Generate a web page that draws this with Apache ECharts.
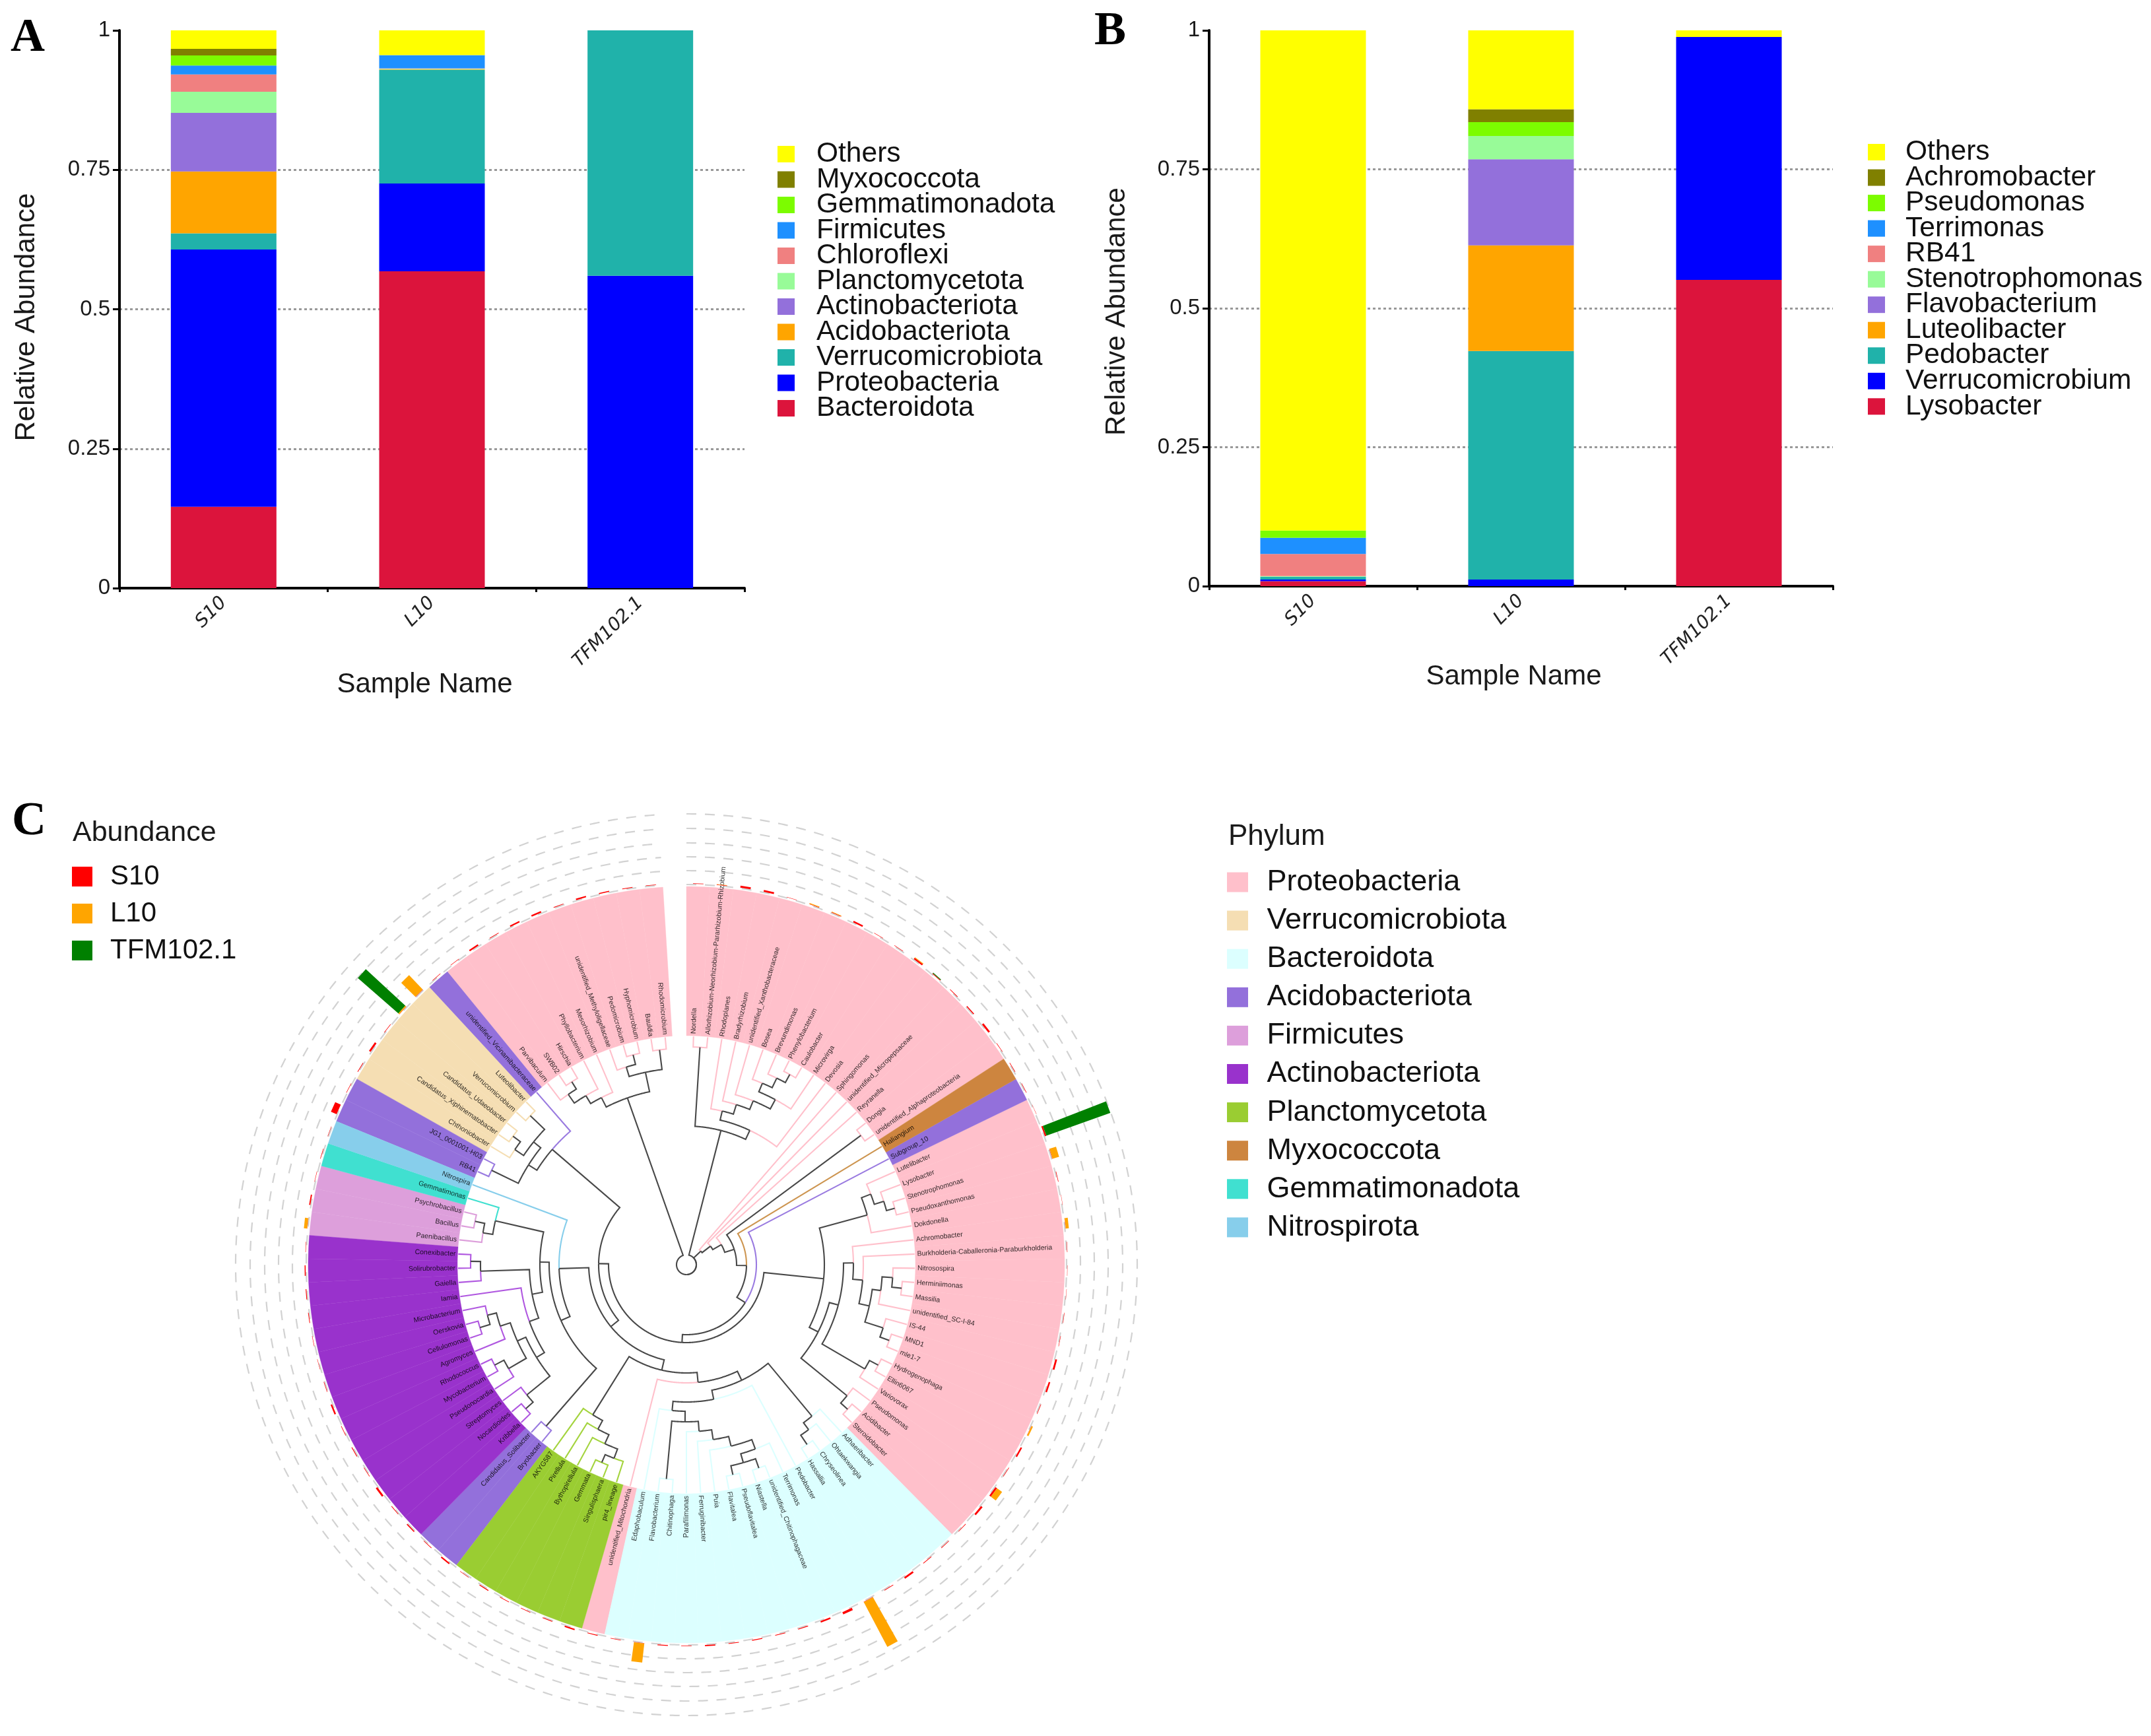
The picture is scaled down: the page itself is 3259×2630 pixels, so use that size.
<!DOCTYPE html>
<html>
<head>
<meta charset="utf-8">
<style>html,body{margin:0;padding:0;background:#fff}#c{width:3259px;height:2630px}</style>
<script src="https://cdn.jsdelivr.net/npm/echarts@6/dist/echarts.min.js"></script>
</head>
<body>
<div id="c"></div>
<script>
// ---------- Panels A and B : relative abundance ----------
const samples = ['S10', 'L10', 'TFM102.1'];
const stackColors = ['#DC143C','#0000FF','#20B2AA','#FFA500','#9370DB','#98FB98','#F08080','#1E90FF','#7CFC00','#808000','#FFFF00'];

const taxaA = ['Bacteroidota','Proteobacteria','Verrucomicrobiota','Acidobacteriota','Actinobacteriota','Planctomycetota','Chloroflexi','Firmicutes','Gemmatimonadota','Myxococcota','Others'];
const valuesA_S10 = [0.146,0.461,0.029,0.111,0.105,0.038,0.031,0.016,0.018,0.012,0.033];
const valuesA_L10 = [0.568,0.1575,0.2035,0.001,0,0.001,0.001,0.0235,0,0,0.0445];
const valuesA_TFM = [0,0.56,0.44,0,0,0,0,0,0,0,0];

const taxaB = ['Lysobacter','Verrucomicrobium','Pedobacter','Luteolibacter','Flavobacterium','Stenotrophomonas','RB41','Terrimonas','Pseudomonas','Achromobacter','Others'];
const valuesB_S10 = [0.009,0.003,0.005,0,0,0.001,0.04,0.029,0.013,0,0.9];
const valuesB_L10 = [0,0.012,0.411,0.19,0.155,0.042,0,0,0.025,0.023,0.142];
const valuesB_TFM = [0.551,0.437,0,0,0,0,0,0,0,0,0.012];

// ---------- Panel C : phylogeny ----------
const phylumNames = ['Proteobacteria','Verrucomicrobiota','Bacteroidota','Acidobacteriota','Firmicutes','Actinobacteriota','Planctomycetota','Myxococcota','Gemmatimonadota','Nitrospirota'];
const phylumColors = ['#FFC0CB','#F5DEB3','#DCFFFF','#9370DB','#DD9FDB','#9932CC','#9ACD32','#CD853F','#40E0D0','#87CEEB'];
const branchColors = ['#FFC0CB','#F5DEB3','#DCFFFF','#9A7BE0','#DD9FDB','#B058E0','#A4D43E','#CD9550','#40E0D0','#87CEEB'];

const leafNames = [
 'Nordella','Allorhizobium-Neorhizobium-Pararhizobium-Rhizobium','Rhodoplanes','Bradyrhizobium','unidentified_Xanthobacteraceae','Bosea','Brevundimonas','Phenylobacterium','Caulobacter','Microvirga',
 'Devosia','Sphingomonas','unidentified_Micropepsaceae','Reyranella','Dongia','unidentified_Alphaproteobacteria','Haliangium','Subgroup_10','Lutelibacter','Lysobacter',
 'Stenotrophomonas','Pseudoxanthomonas','Dokdonella','Achromobacter','Burkholderia-Caballeronia-Paraburkholderia','Nitrosospira','Herminiimonas','Massilia','unidentified_SC-I-84','IS-44',
 'MND1','mle1-7','Hydrogenophaga','Ellin6067','Variovorax','Pseudomonas','Acidibacter','Steroidobacter','Adhaeribacter','Ohtaekwangia',
 'Chryseolinea','Hassallia','Pedobacter','Terrimonas','unidentified_Chitinophagaceae','Niastella','Pseudoflavitalea','Flavitalea','Puia','Ferruginibacter',
 'Parafilimonas','Chitinophaga','Flavobacterium','Edaphobaculum','unidentified_Mitochondria','pir4_lineage','Singulisphaera','Gemmata','Bythopirellula','Pirellula',
 'AKYG587','Bryobacter','Candidatus_Solibacter','Kribbella','Nocardioides','Streptomyces','Pseudonocardia','Mycobacterium','Rhodococcus','Agromyces',
 'Cellulomonas','Oerskovia','Microbacterium','Iamia','Gaiella','Solirubrobacter','Conexibacter','Paenibacillus','Bacillus','Psychrobacillus',
 'Gemmatimonas','Nitrospira','RB41','JG1_0001001-H03','Chthoniobacter','Candidatus_Xiphinematobacter','Candidatus_Udaeobacter','Verrucomicrobium','Luteolibacter','unidentified_Vicinamibacteraceae',
 'Parvibaculum','SWB02','Hirschia','Phyllobacterium','Mesorhizobium','unidentified_Methyloligellaceae','Pedomicrobium','Hyphomicrobium','Bauldia','Rhodomicrobium'
];
// [phylum index, number of consecutive leaves], clockwise from the top
const phylumRuns = [[0,16],[7,1],[3,1],[0,20],[2,16],[0,1],[6,6],[3,2],[5,14],[4,3],[8,1],[9,1],[3,2],[1,5],[3,1],[0,10]];

// clade = [node depth, child, child, ...]; a number is a leaf index
const cladeQ = [210,[330,0,1],[225,[239,2,[254,3,[268,4,[284,[298,5,[314,6,[328,7,8]]],9]]]],10]];
const cladeProteoB = [209,
  [284,[299,18,[314,19,[327,20,21]]],22],
  [224,
    [238,
      [253,23,[268,24,[284,[297,[313,25,[328,26,27]],28],[313,29,[328,30,31]]]]],
      [313,[328,32,33],34]],
    [314,35,[328,36,37]]]];
const cladeBactero = [194,
  [298,38,[311,39,[328,40,41]]],
  [208,42,[222,[238,[253,[268,[283,[298,43,[312,[327,44,45],[326,46,47]]],48],49],50],[326,51,52]],53]]];
const cladePlancto = [268,[283,[298,[313,55,[326,56,57]],58],59],60];
const cladeActino = [238,
  [253,[267,[312,[327,63,64],65],[281,[312,66,[328,67,68]],[297,69,[311,[327,70,71],72]]]],73],
  [312,74,[327,75,76]]];
const cladeFirmi = [297,[312,77,[327,78,79]],80];
const cladeVerruco = [268,[283,[328,82,83],[297,[313,84,[327,85,86]],[327,87,88]]],89];
const cladeAlpha = [268,[284,[298,[314,90,[327,91,92]],93],94],[298,[313,95,[328,96,97]],[328,98,99]]];
const cladeDeep = [133,
  [148,
    [164,[179,cladeBactero,54],cladePlancto],
    [193,[208,[324,61,62],[222,cladeActino,cladeFirmi]],81]],
  cladeVerruco];
const cladeLadder = [30,11,[46,12,[61,13,[76,[329,14,15],[91,16,[106,17,[118,cladeProteoB,cladeDeep]]]]]]];
const treeRoot = [15,cladeQ,cladeLadder,cladeAlpha];

// abundance per leaf, in percent
const abundanceS10 = [
 .5,.4,1.6,1.5,.3,.4,.4,1.3,.4,.4,
 1.3,.6,.5,.8,1.6,.4,.4,.4,.2,1.3,
 .3,.4,.2,.2,.3,.2,.2,.3,.3,1.5,
 1.3,.4,.2,1.3,.4,1.6,1.6,.4,.4,.5,
 1.5,.5,.3,2,1.2,.6,.5,.7,.5,.9,
 .4,.6,.3,.4,.6,1.1,.5,.5,.5,.7,
 .4,1.1,.5,.8,.5,1.6,.4,.6,.4,1.3,
 .4,.3,.3,.5,.6,.8,.3,.2,1,.3,
 .4,.3,5,.4,.5,1.6,.4,.2,.3,.4,
 .4,1.3,.5,1.2,1.3,.5,1.2,.8,.5,.4];
const abundanceL10 = [
 0,.3,0,0,0,.6,.5,0,0,0,
 .6,0,0,0,0,0,0,0,0,0,
 5.5,0,0,2.5,0,0,0,0,0,0,
 0,0,1.2,0,0,5,0,0,0,0,
 0,0,41,0,0,0,0,0,0,0,
 0,0,15.5,0,0,0,0,0,0,0,
 0,0,0,0,0,0,0,0,0,0,
 0,0,0,0,0,0,0,2.6,0,0,
 0,0,0,0,0,0,0,1,16,0,
 0,0,0,0,0,0,0,0,0,0];
const abundanceTFM = [
 0,0,0,0,0,0,0,0,0,0,
 0,.6,0,0,0,0,0,0,0,55,
 0,0,0,0,0,0,0,0,0,0,
 0,0,0,0,0,0,0,0,0,0,
 0,0,0,0,0,0,0,0,0,0,
 0,0,0,0,0,0,0,0,0,0,
 0,0,0,0,0,0,0,0,0,0,
 0,0,0,0,0,0,0,0,0,0,
 0,0,0,0,0,0,0,43.5,0,0,
 0,0,0,0,0,0,0,0,0,0];
const abundanceNames = ['S10','L10','TFM102.1'];
const abundanceColors = ['#FF0000','#FFA500','#008000'];
const ringDepths = [576,597,618,639,661,683];

// ---------- derived ----------
const LEAF_DEPTH = 346, LABEL_DEPTH = 350, BAND_INNER = 347, BAND_OUTER = 573, BAR_BASE = 577, PCT_DEPTH = 1.87;
const FONT = '"Liberation Sans", Arial, sans-serif';
const leafPhylum = [];
phylumRuns.forEach(r => { for (let i = 0; i < r[1]; i++) leafPhylum.push(r[0]); });

const edgeRows = [];
(function walk(n) {
  if (typeof n === 'number') return { a: n + 0.5, r: LEAF_DEPTH, c: leafPhylum[n] };
  const kids = n.slice(1).map(walk);
  const a = (kids[0].a + kids[kids.length - 1].a) / 2;
  kids.forEach(k => edgeRows.push([n[0], a, k.r, k.a, k.c]));
  return { a: a, r: n[0], c: -1 };
})(treeRoot);

function pt(api, r, a) { const p = api.coord([r, a]); return [p[0], p[1]]; }
function arcPoints(api, r, a0, a1, step) {
  const n = Math.max(1, Math.ceil(Math.abs(a1 - a0) / step));
  const out = [];
  for (let i = 0; i <= n; i++) out.push(pt(api, r, a0 + (a1 - a0) * i / n));
  return out;
}

const series = [];
function stackSeries(taxa, s, l, t, idx) {
  taxa.forEach((name, i) => series.push({
    type: 'bar', name: name, stack: 'panel' + idx, xAxisIndex: idx, yAxisIndex: idx,
    barWidth: 160, itemStyle: { color: stackColors[i] },
    data: [s[i], l[i], t[i]]
  }));
}
stackSeries(taxaA, valuesA_S10, valuesA_L10, valuesA_TFM, 0);
stackSeries(taxaB, valuesB_S10, valuesB_L10, valuesB_TFM, 1);

// dashed rings
series.push({
  type: 'custom', name: 'rings', coordinateSystem: 'polar', silent: true, z: 2,
  data: ringDepths.map(d => [d, 0]),
  renderItem: function (p, api) {
    return { type: 'polyline', shape: { points: arcPoints(api, api.value(0), 0, 100, 0.1) },
      style: { fill: null, stroke: '#d2d2d2', lineWidth: 2.2, lineDash: [15, 13] } };
  }
});
// coloured bands, one series per phylum
phylumNames.forEach((name, ph) => {
  const rows = [];
  leafPhylum.forEach((v, k) => { if (v === ph) rows.push([BAND_INNER, k]); });
  series.push({
    type: 'custom', name: name, coordinateSystem: 'polar', silent: true, z: 3,
    itemStyle: { color: phylumColors[ph] }, data: rows,
    renderItem: function (p, api) {
      const k = api.value(1);
      const pts = arcPoints(api, BAND_OUTER, k, k + 1, 0.2).concat(arcPoints(api, BAND_INNER, k + 1, k, 0.2));
      return { type: 'polygon', shape: { points: pts },
        style: { fill: phylumColors[ph], stroke: phylumColors[ph], lineWidth: 0.4 } };
    }
  });
});
// tree branches
series.push({
  type: 'custom', name: 'branches', coordinateSystem: 'polar', silent: true, z: 4,
  data: edgeRows,
  renderItem: function (p, api) {
    const pr = api.value(0), pa = api.value(1), cr = api.value(2), ca = api.value(3), c = api.value(4);
    const pts = arcPoints(api, pr, pa, ca, 0.08);
    pts.push(pt(api, cr, ca));
    return { type: 'polyline', shape: { points: pts },
      style: { fill: null, stroke: c < 0 ? '#484848' : branchColors[c], lineWidth: 2.1, lineJoin: 'miter' } };
  }
});
// leaf labels
series.push({
  type: 'custom', name: 'leaf labels', coordinateSystem: 'polar', silent: true, z: 5,
  data: leafNames.map((n, k) => [LABEL_DEPTH, k + 0.5]),
  renderItem: function (p, api) {
    const a = api.value(1), k = p.dataIndex;
    const deg = a * 360 / 101;
    const q = pt(api, api.value(0), a);
    const right = deg < 180;
    return { type: 'text', x: q[0], y: q[1],
      rotation: (right ? 90 - deg : 270 - deg) * Math.PI / 180,
      style: { text: leafNames[k], fill: 'rgba(0,0,0,0.82)', font: '10.5px ' + FONT,
        align: right ? 'left' : 'right', verticalAlign: 'middle' } };
  }
});
// abundance bars, stacked S10, L10, TFM102.1
const abundanceSets = [abundanceS10, abundanceL10, abundanceTFM];
abundanceNames.forEach((name, si) => {
  const rows = [];
  abundanceSets[si].forEach((v, k) => {
    if (v <= 0) return;
    let base = 0;
    for (let j = 0; j < si; j++) base += abundanceSets[j][k];
    rows.push([BAR_BASE + base * PCT_DEPTH, k + 0.5, v]);
  });
  series.push({
    type: 'custom', name: name, coordinateSystem: 'polar', silent: true, z: 6,
    itemStyle: { color: abundanceColors[si] }, data: rows,
    renderItem: function (p, api) {
      const r0 = api.value(0), a = api.value(1), r1 = r0 + api.value(2) * PCT_DEPTH, w = 0.22;
      return { type: 'polygon', shape: { points: [pt(api, r0, a - w), pt(api, r1, a - w), pt(api, r1, a + w), pt(api, r0, a + w)] },
        style: { fill: abundanceColors[si] } };
    }
  });
});

const axisText = { color: '#1a1a1a', fontFamily: FONT };
function catAxis(idx, gap, pad) {
  return {
    type: 'category', gridIndex: idx, data: samples,
    name: 'Sample Name', nameLocation: 'middle', nameGap: gap, nameMoveOverlap: false,
    nameTextStyle: { fontFamily: FONT, fontSize: 42, color: '#1a1a1a', padding: pad },
    axisLine: { lineStyle: { color: '#000', width: 4 } },
    axisTick: { show: true, alignWithLabel: false, length: 6, lineStyle: { color: '#000', width: 3 } },
    axisLabel: { interval: 0, rotate: 45, fontFamily: '"DejaVu Sans"', fontStyle: 'italic', fontSize: 28, color: '#222', margin: 18 }
  };
}
function valAxis(idx, gap, pad) {
  return {
    type: 'value', gridIndex: idx, min: 0, max: 1, interval: 0.25,
    name: 'Relative Abundance', nameLocation: 'middle', nameGap: gap, nameMoveOverlap: false,
    nameTextStyle: { fontFamily: FONT, fontSize: 42, color: '#1a1a1a', padding: pad },
    axisLine: { show: true, lineStyle: { color: '#000', width: 4 } },
    axisTick: { show: true, length: 10, lineStyle: { color: '#000', width: 3 } },
    axisLabel: Object.assign({ fontSize: 33, margin: 14 }, axisText),
    splitLine: { show: true, showMinLine: false, showMaxLine: false, lineStyle: { color: '#999999', width: 3, type: [4, 4] } }
  };
}
function legendBox(names, colors, left, top, w, h, gap, pad, size) {
  return {
    orient: 'vertical', left: left, top: top, padding: 0, selectedMode: false,
    itemWidth: w, itemHeight: h, itemGap: gap, icon: 'rect',
    textStyle: { fontFamily: FONT, fontSize: size, lineHeight: h, color: '#111', padding: [0, 0, 0, pad] },
    data: names.map((n, i) => ({ name: n, itemStyle: { color: colors[i] } }))
  };
}
function revNames(a) { return a.slice().reverse(); }

const chart = echarts.init(document.getElementById('c'), null, { renderer: 'canvas', width: 3259, height: 2630 });
chart.setOption({
  animation: false,
  backgroundColor: '#ffffff',
  title: [
    { text: 'A', left: 16, top: 22, padding: 0, textStyle: { fontFamily: '"Liberation Serif"', fontWeight: 'bold', fontSize: 72, color: '#000' } },
    { text: 'B', left: 1658, top: 12, padding: 0, textStyle: { fontFamily: '"Liberation Serif"', fontWeight: 'bold', fontSize: 72, color: '#000' } },
    { text: 'C', left: 18, top: 1209, padding: 0, textStyle: { fontFamily: '"Liberation Serif"', fontWeight: 'bold', fontSize: 72, color: '#000' } },
    { text: 'Abundance', left: 110, top: 1241, padding: 0, textStyle: { fontFamily: FONT, fontWeight: 'normal', fontSize: 43, color: '#1a1a1a' } },
    { text: 'Phylum', left: 1861, top: 1246, padding: 0, textStyle: { fontFamily: FONT, fontWeight: 'normal', fontSize: 44, color: '#1a1a1a' } }
  ],
  grid: [
    { left: 181, top: 46, width: 947, height: 845 },
    { left: 1832, top: 46, width: 945, height: 842 }
  ],
  xAxis: [catAxis(0, 125, [0, 22, 0, 0]), catAxis(1, 116, [0, 22, 0, 0])],
  yAxis: [valAxis(0, 120, [0, 24, 0, 0]), valAxis(1, 119, [0, 10, 0, 0])],
  polar: { center: [1040, 1916], radius: [0, 690] },
  radiusAxis: { show: false, min: 0, max: 690 },
  angleAxis: { show: false, type: 'value', min: 0, max: 101, startAngle: 90, clockwise: true },
  legend: [
    legendBox(revNames(taxaA), revNames(stackColors), 1178, 212, 26, 25, -4.5, 28, 42.5),
    legendBox(revNames(taxaB), revNames(stackColors), 2830, 209, 26, 25, -4.47, 26, 42.5),
    legendBox(abundanceNames, abundanceColors, 109, 1307, 31, 30, 14, 22, 42),
    legendBox(phylumNames, phylumColors, 1859, 1314, 32, 30, 13.1, 23.5, 45)
  ],
  series: series
});
</script>
</body>
</html>
